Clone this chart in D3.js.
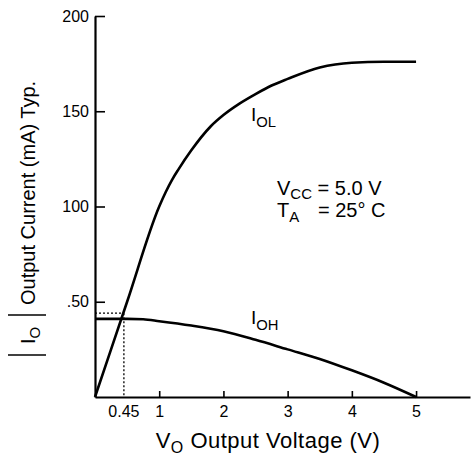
<!DOCTYPE html>
<html>
<head>
<meta charset="utf-8">
<script src="https://cdn.jsdelivr.net/npm/d3@7"></script>
<style>
  html, body { margin: 0; padding: 0; background: #fff; }
  svg { display: block; font-family: "Liberation Sans", Arial, Helvetica, sans-serif; }
</style>
</head>
<body>
<svg id="chart" width="471" height="459"></svg>
<script>
// ---- data ----
const iolVolts = [0, 0.5, 1.0, 1.1, 1.2, 1.3, 1.5, 1.8, 2.0, 2.25, 2.5, 2.75, 3.0, 3.5, 4.0, 4.5, 5.0];
const iolCurrent = [0, 50, 100, 107.5, 114, 119.5, 129.5, 142, 148, 154, 159, 163.5, 167, 173, 175.5, 176, 176];
const iohVolts = [0, 0.5, 0.75, 1.0, 1.5, 2.0, 2.5, 3.0, 3.5, 4.0, 4.5, 5.0];
const iohCurrent = [41, 41, 40.8, 39.8, 37.5, 34.5, 30, 25, 20, 14, 7.5, 0];
const xTicks = [1, 2, 3, 4, 5];
const yTicks = [50, 100, 150, 200];
const yTickLabels = [".50", "100", "150", "200"];
const markV = 0.45;
const markI = 44;

const svg = d3.select("#chart");
const x = d3.scaleLinear().domain([0, 5.84]).range([95, 470]);
const y = d3.scaleLinear().domain([0, 200]).range([397, 16]);

// axes
const xAxis = d3.axisBottom(x).tickValues(xTicks).tickFormat(d3.format("d"))
  .tickSize(-6).tickSizeOuter(0).tickPadding(9);
const gx = svg.append("g").attr("transform", `translate(0,${y(0)})`).call(xAxis);
const yAxis = d3.axisLeft(y).tickValues(yTicks)
  .tickFormat((d, i) => yTickLabels[i]).tickSize(-10).tickSizeOuter(0).tickPadding(6);
const gy = svg.append("g").attr("transform", `translate(${x(0)},0)`).call(yAxis);

[gx, gy].forEach(g => {
  g.select(".domain").attr("stroke", "#000").attr("stroke-width", 2.2);
  g.selectAll(".tick line").attr("stroke", "#000").attr("stroke-width", 1.6);
  g.selectAll(".tick text").attr("fill", "#000").attr("font-size", 16)
    .attr("font-family", "Liberation Sans, Arial, sans-serif");
});

// 0.45 label
svg.append("text").attr("x", x(markV)).attr("y", y(0) + 9).attr("dy", "0.71em")
  .attr("text-anchor", "middle").attr("font-size", 16).text("0.45");

// dotted guides
svg.append("line").attr("x1", x(0)).attr("x2", x(markV)).attr("y1", y(markI)).attr("y2", y(markI))
  .attr("stroke", "#000").attr("stroke-width", 1.3).attr("stroke-dasharray", "2,2");
svg.append("line").attr("x1", x(markV)).attr("x2", x(markV)).attr("y1", y(markI)).attr("y2", y(0))
  .attr("stroke", "#000").attr("stroke-width", 1.3).attr("stroke-dasharray", "2,2");

// curves
const line = d3.line().x(d => x(d[0])).y(d => y(d[1])).curve(d3.curveMonotoneX);
svg.append("path").datum(iolVolts.map((v, i) => [v, iolCurrent[i]]))
  .attr("d", line).attr("fill", "none").attr("stroke", "#000").attr("stroke-width", 2.6);
svg.append("path").datum(iohVolts.map((v, i) => [v, iohCurrent[i]]))
  .attr("d", line).attr("fill", "none").attr("stroke", "#000").attr("stroke-width", 2.6);

// labels with subscripts
function subLabel(xp, yp, main, sub, size) {
  const t = svg.append("text").attr("x", xp).attr("y", yp).attr("font-size", size);
  t.append("tspan").text(main);
  t.append("tspan").attr("font-size", size * 0.78).attr("dy", size * 0.3).text(sub);
  return t;
}
subLabel(251, 121, "I", "OL", 19);
subLabel(251, 324, "I", "OH", 19);

const t1 = svg.append("text").attr("x", 277).attr("y", 195).attr("font-size", 20);
t1.append("tspan").text("V");
t1.append("tspan").attr("font-size", 15).attr("dy", 4).text("CC");
t1.append("tspan").attr("dy", -4).text(" = 5.0 V");
const t2 = svg.append("text").attr("x", 277).attr("y", 217).attr("font-size", 20);
t2.append("tspan").text("T");
t2.append("tspan").attr("font-size", 15).attr("dy", 5).text("A");
t2.append("tspan").attr("dy", -5).attr("x", 318).text("= 25° C");

// x-axis title
const xt = svg.append("text").attr("x", 268).attr("y", 448).attr("text-anchor", "middle")
  .attr("font-size", 22).attr("letter-spacing", 0.5);
xt.append("tspan").text("V");
xt.append("tspan").attr("font-size", 16).attr("dy", 5).text("O");
xt.append("tspan").attr("dy", -5).text(" Output Voltage (V)");

// y-axis title (rotated)
const gt = svg.append("g").attr("transform", "translate(35,0) rotate(-90)");
const yt = gt.append("text").attr("x", -344).attr("y", 0).attr("font-size", 20);
yt.append("tspan").text("I");
yt.append("tspan").attr("font-size", 15).attr("dy", 5).text("O");
yt.append("tspan").attr("dy", -5).attr("x", -305).text("Output Current (mA) Typ.");
gt.append("line").attr("x1", -355).attr("x2", -355).attr("y1", -27).attr("y2", 11)
  .attr("stroke", "#000").attr("stroke-width", 1.6);
gt.append("line").attr("x1", -315).attr("x2", -315).attr("y1", -27).attr("y2", 11)
  .attr("stroke", "#000").attr("stroke-width", 1.6);
</script>
</body>
</html>
